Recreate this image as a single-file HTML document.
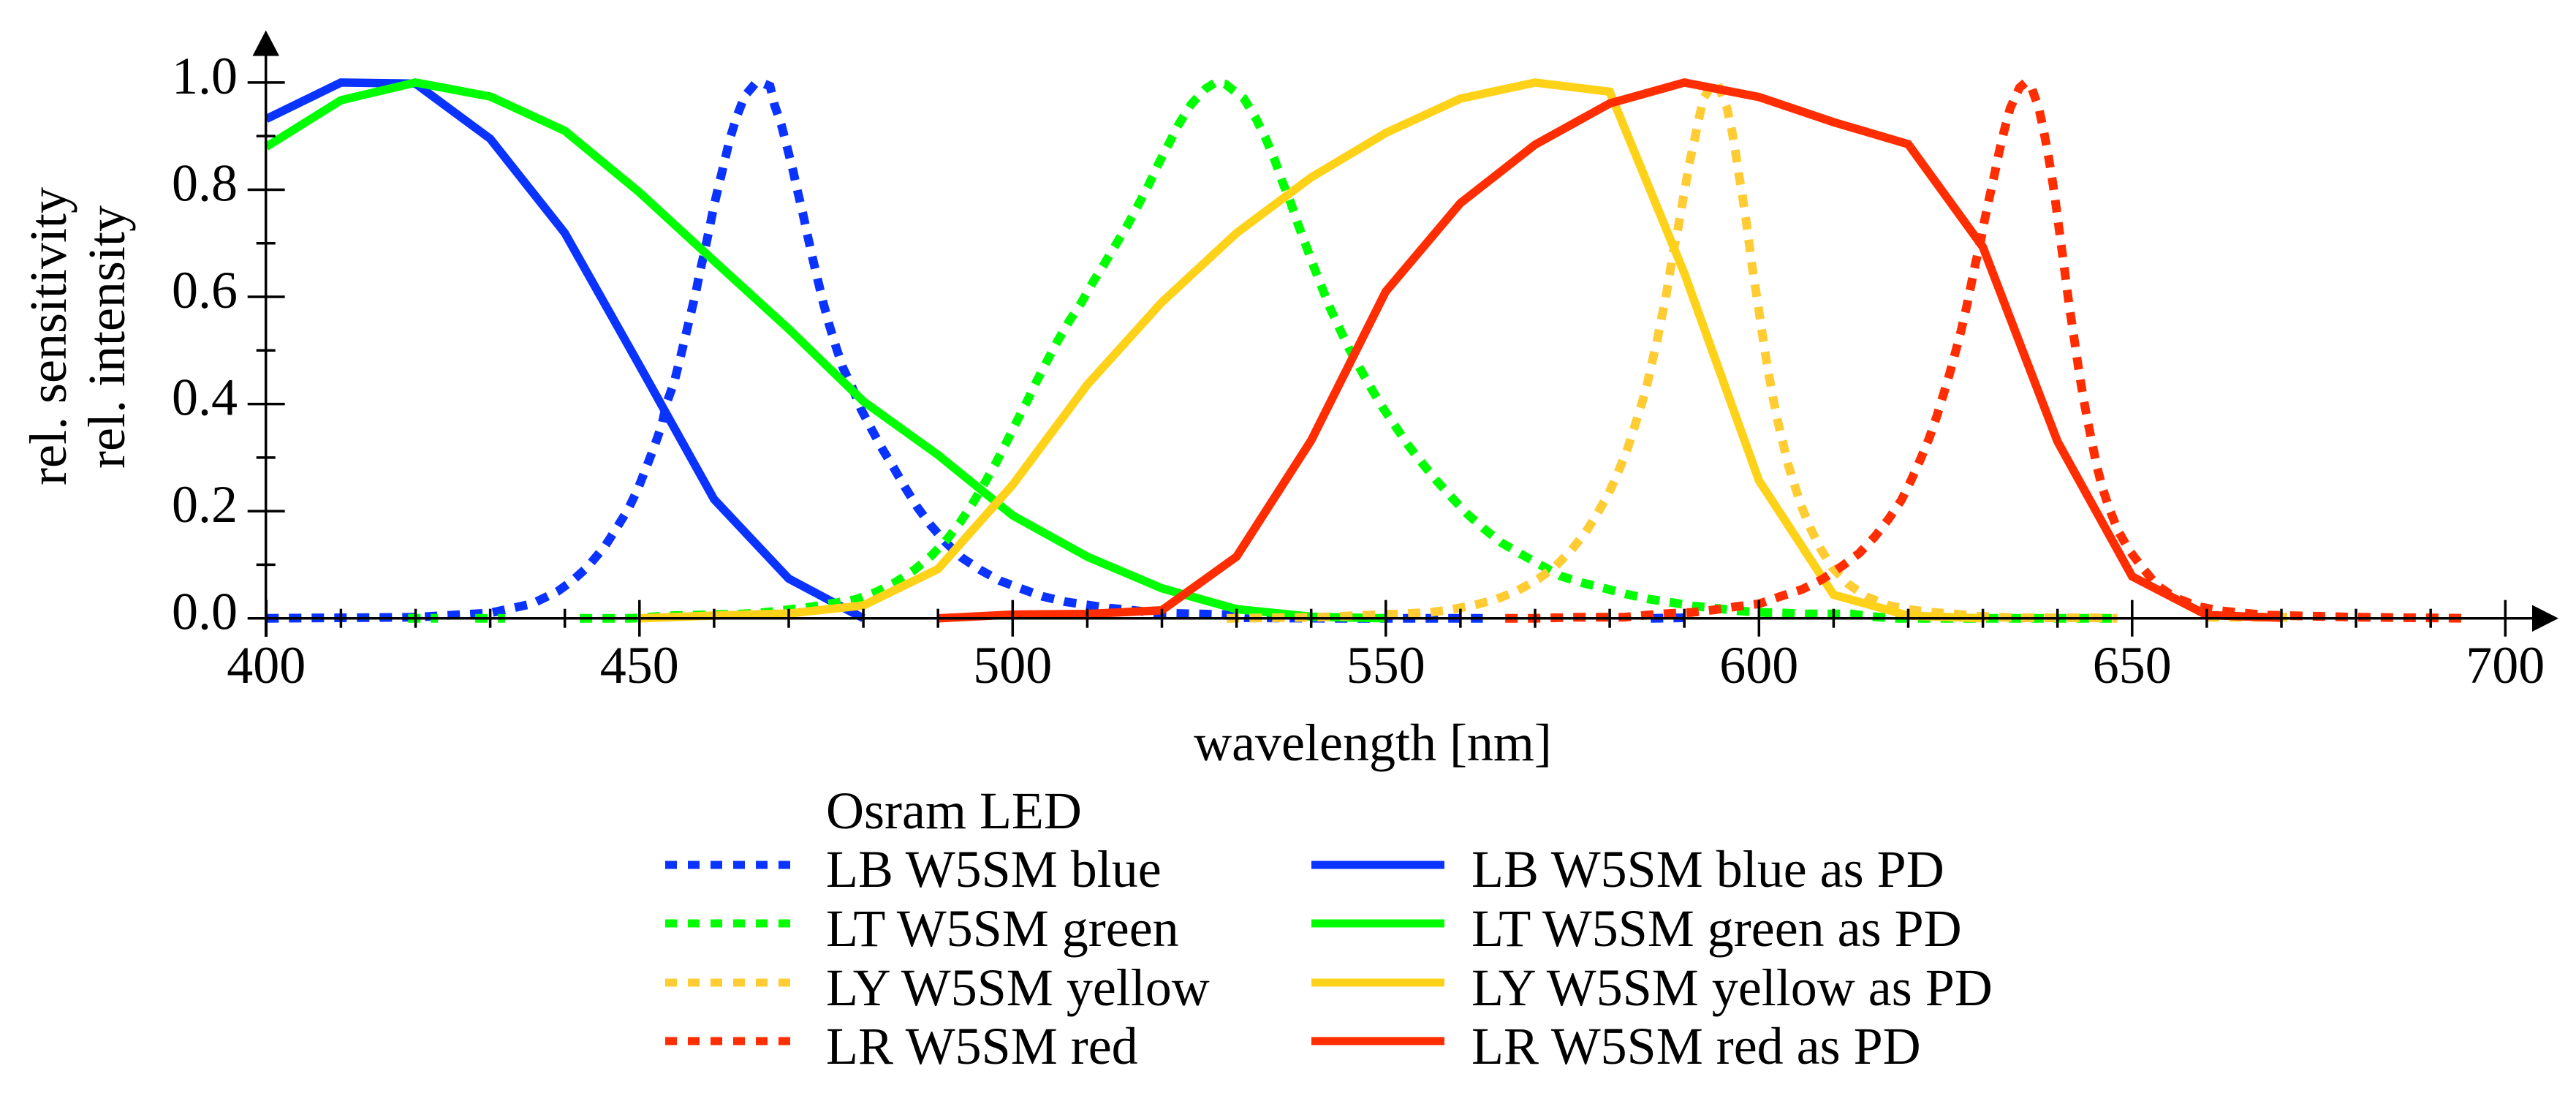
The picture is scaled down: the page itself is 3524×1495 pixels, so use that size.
<!DOCTYPE html>
<html lang="en">
<head>
<meta charset="utf-8">
<title>Osram LED spectra</title>
<style>
html,body{margin:0;padding:0;background:#fff;}
svg{display:block;}
text{font-family:"Liberation Serif",serif;font-size:72px;fill:#000;}
.curve{fill:none;stroke-width:11.5;stroke-linejoin:miter;stroke-linecap:butt;}
.dot{stroke-width:12;stroke-dasharray:17 14;}
.key{stroke-width:11;fill:none;stroke-dasharray:none;}
.key.dots{stroke-dasharray:16 15;}
</style>
</head>
<body>
<svg id="chart" xmlns="http://www.w3.org/2000/svg" width="3524" height="1495" viewBox="0 0 3524 1495">
  <g>
    <path id="ledBlue" class="curve dot" stroke="#0a33ff"/>
    <path id="pdBlue" class="curve" stroke="#0a33ff"/>
    <path id="ledGreen" class="curve dot" stroke="#00ff00"/>
    <path id="pdGreen" class="curve" stroke="#00ff00"/>
    <path id="ledYellow" class="curve dot" stroke="#ffcc33"/>
    <path id="pdYellow" class="curve" stroke="#ffd21a"/>
    <path id="ledRed" class="curve dot" stroke="#ff2d00"/>
    <path id="pdRed" class="curve" stroke="#ff2d00"/>
  </g>
  <g id="axes">
    <line x1="363.7" y1="871" x2="363.7" y2="70" stroke="#000" stroke-width="3.5"/>
    <polygon points="363.7,41.5 345.5,76.5 382,76.5" fill="#000"/>
    <line x1="339" y1="845.7" x2="3470" y2="845.7" stroke="#000" stroke-width="3.5"/>
    <polygon points="3500,845.7 3464,827.5 3464,864" fill="#000"/>
  </g>
  <text x="90" y="460" transform="rotate(-90 90 460)" text-anchor="middle">rel. sensitivity</text>
  <text x="170" y="461" transform="rotate(-90 170 461)" text-anchor="middle">rel. intensity</text>
  <text x="1878" y="1040" text-anchor="middle">wavelength [nm]</text>
  <g>
    <text x="1130" y="1133">Osram LED</text>
    <line class="key dots" x1="910" y1="1183" x2="1082" y2="1183" stroke="#0a33ff"/>
    <text x="1130" y="1213">LB W5SM blue</text>
    <line class="key dots" x1="910" y1="1263" x2="1082" y2="1263" stroke="#00ff00"/>
    <text x="1130" y="1294">LT W5SM green</text>
    <line class="key dots" x1="910" y1="1344" x2="1082" y2="1344" stroke="#ffcc33"/>
    <text x="1130" y="1375">LY W5SM yellow</text>
    <line class="key dots" x1="910" y1="1424" x2="1082" y2="1424" stroke="#ff2d00"/>
    <text x="1130" y="1455">LR W5SM red</text>
    <line class="key" x1="1794" y1="1183" x2="1976" y2="1183" stroke="#0a33ff"/>
    <text x="2013" y="1213">LB W5SM blue as PD</text>
    <line class="key" x1="1794" y1="1263" x2="1976" y2="1263" stroke="#00ff00"/>
    <text x="2013" y="1294">LT W5SM green as PD</text>
    <line class="key" x1="1794" y1="1344" x2="1976" y2="1344" stroke="#ffd21a"/>
    <text x="2013" y="1375">LY W5SM yellow as PD</text>
    <line class="key" x1="1794" y1="1424" x2="1976" y2="1424" stroke="#ff2d00"/>
    <text x="2013" y="1455">LR W5SM red as PD</text>
  </g>
</svg>
<script>
// Tick labels
const xTickLabels = [400, 450, 500, 550, 600, 650, 700];
const xMinorTicks = [410, 420, 430, 440, 460, 470, 480, 490, 510, 520, 530, 540, 560, 570, 580, 590, 610, 620, 630, 640, 660, 670, 680, 690];
const yTickLabels = ["0.0", "0.2", "0.4", "0.6", "0.8", "1.0"];
const yMinorTicks = [0.1, 0.3, 0.5, 0.7, 0.9];

// Photodiode (solid) series
const pdBlueNm = [400, 410, 420, 430, 440, 450, 460, 470, 480];
const pdBlueVal = [0.932, 1.0, 0.998, 0.895, 0.719, 0.472, 0.222, 0.074, 0.0];
const pdGreenNm = [400, 410, 420, 430, 440, 450, 460, 470, 480, 490, 500, 510, 520, 530, 540, 550];
const pdGreenVal = [0.88, 0.967, 1.0, 0.974, 0.91, 0.795, 0.667, 0.54, 0.405, 0.305, 0.192, 0.115, 0.056, 0.017, 0.003, 0.0];
const pdYellowNm = [450, 460, 470, 480, 490, 500, 510, 520, 530, 540, 550, 560, 570, 580, 590, 600, 610, 620, 630];
const pdYellowVal = [0.0, 0.005, 0.009, 0.024, 0.092, 0.249, 0.436, 0.59, 0.719, 0.823, 0.906, 0.97, 1.0, 0.983, 0.644, 0.257, 0.044, 0.005, 0.0];
const pdRedNm = [490, 500, 510, 520, 530, 540, 550, 560, 570, 580, 590, 600, 610, 620, 630, 640, 650, 660, 670];
const pdRedVal = [0.0, 0.007, 0.008, 0.015, 0.115, 0.332, 0.61, 0.775, 0.884, 0.961, 1.0, 0.973, 0.926, 0.885, 0.693, 0.33, 0.078, 0.006, 0.001];

// LED emission (dotted) series; null marks a gap in the trace
const ledBlueNm = [400, 410, 420, 430, 435.6, 439, 441, 443, 445.4, 447, 448.5, 449.8, 450.9, 452, 453, 453.6, 454.65, 455.4, 456.1, 456.8, 457.5, 458.1, 458.8, 459.4, 460, 460.7, 461.4, 462.1, 463, 464.1, 465.5, 466.5, 467.5, 468.1, 469.05, 469.8, 470.55, 471.2, 471.9, 472.55, 473.2, 473.9, 474.6, 475.4, 476.3, 477.25, 478.5, 479.7, 481.1, 482.5, 484.1, 485.6, 487.2, 489, 491, 493.2, 495.7, 498.3, 501.2, 504, 507, 510, 513, 516.1, 519.1, 522.1, 525.1, 528.2, 531.2, 543, 563, null, 585.5, 590];
const ledBlueVal = [0.0, 0.001, 0.002, 0.01, 0.027, 0.05, 0.07, 0.095, 0.135, 0.17, 0.204, 0.242, 0.281, 0.321, 0.361, 0.4, 0.441, 0.482, 0.523, 0.564, 0.605, 0.647, 0.689, 0.73, 0.771, 0.812, 0.853, 0.894, 0.935, 0.975, 0.998, 0.999, 0.993, 0.958, 0.919, 0.878, 0.837, 0.796, 0.755, 0.713, 0.672, 0.631, 0.59, 0.549, 0.508, 0.468, 0.431, 0.39, 0.353, 0.317, 0.28, 0.244, 0.208, 0.174, 0.142, 0.113, 0.09, 0.07, 0.055, 0.041, 0.031, 0.025, 0.019, 0.015, 0.01, 0.009, 0.008, 0.007, 0.001, 0.0, 0.0, null, 0.0, 0.001];
const ledGreenNm = [419, 423, null, 428, 432, null, 442, 448.8, 454.6, 463.7, 466.8, 469.9, 472.9, 475.9, 478.9, 481.7, 484.4, 486.9, 489.2, 491.3, 493.1, 494.8, 496.4, 497.8, 499.2, 500.5, 501.9, 503.2, 504.6, 506, 507.55, 509.2, 510.7, 512.3, 513.85, 515.4, 516.85, 518.2, 519.5, 520.9, 522.3, 523.9, 525.9, 527.2, 528.5, 531, 532.6, 533.9, 535.1, 536.1, 537.2, 538.2, 539.25, 540.3, 541.4, 542.5, 543.8, 545.05, 546.55, 548.05, 549.6, 551.3, 553, 554.85, 556.8, 558.8, 560.9, 563.15, 565.5, 568.1, 570.8, 573.4, 576.4, 579.3, 582.25, 585.2, 588.1, 591.1, 594.15, 597.1, 600.1, 603.2, 606.2, 609.2, 612.3, 615.3, 618.3, 648];
const ledGreenVal = [0.0, 0.0, null, 0.0, 0.0, null, 0.0, 0.0, 0.005, 0.008, 0.011, 0.016, 0.021, 0.028, 0.035, 0.049, 0.068, 0.091, 0.118, 0.149, 0.182, 0.218, 0.256, 0.291, 0.329, 0.366, 0.404, 0.442, 0.48, 0.517, 0.554, 0.589, 0.626, 0.662, 0.698, 0.734, 0.772, 0.808, 0.847, 0.885, 0.923, 0.959, 0.989, 1.0, 0.997, 0.97, 0.933, 0.896, 0.856, 0.816, 0.778, 0.737, 0.698, 0.658, 0.619, 0.58, 0.541, 0.504, 0.466, 0.429, 0.393, 0.358, 0.323, 0.29, 0.257, 0.226, 0.195, 0.167, 0.141, 0.12, 0.099, 0.079, 0.066, 0.056, 0.045, 0.036, 0.03, 0.023, 0.019, 0.014, 0.011, 0.01, 0.008, 0.008, 0.008, 0.003, 0.0, 0.0];
const ledYellowNm = [528.7, 541, 553, 556, 559, 562, 564.9, 567.7, 570.4, 572.8, 574.9, 576.8, 578.4, 579.9, 581.1, 582.25, 583.2, 584.1, 584.95, 585.6, 586.3, 586.9, 587.5, 588, 588.45, 589.1, 589.6, 590.15, 590.65, 591.3, 591.9, 592.6, 593.8, 594.4, 595.7, 596.35, 596.85, 597.3, 597.8, 598.25, 598.65, 599.05, 599.5, 599.95, 600.4, 600.85, 601.35, 601.9, 602.5, 603.2, 603.9, 604.8, 605.75, 606.9, 608.25, 609.8, 611.95, 614.45, 617.35, 620.3, 623.3, 626.3, 629.25, 632.35, 635.3, 638.4, 641.4, 644.4, 648, null, 660, 672];
const ledYellowVal = [0.0, 0.002, 0.009, 0.011, 0.017, 0.025, 0.036, 0.052, 0.073, 0.098, 0.128, 0.161, 0.197, 0.234, 0.272, 0.311, 0.352, 0.392, 0.432, 0.474, 0.515, 0.557, 0.598, 0.64, 0.68, 0.723, 0.764, 0.806, 0.848, 0.889, 0.93, 0.971, 0.998, 1.0, 0.953, 0.912, 0.871, 0.829, 0.787, 0.745, 0.703, 0.66, 0.619, 0.578, 0.535, 0.494, 0.452, 0.41, 0.369, 0.328, 0.287, 0.247, 0.207, 0.168, 0.13, 0.095, 0.064, 0.04, 0.024, 0.016, 0.011, 0.008, 0.004, 0.002, 0.001, 0.001, 0.001, 0.001, 0.0, null, 0.002, 0.002];
const ledRedNm = [566, 569.8, 572.8, 575.9, 578.9, 581.9, 585, 588, 591, 594.1, 597, 600, 602.9, 605.8, 608.5, 611.1, 613.4, 615.5, 617.4, 619.1, 620.4, 621.65, 622.8, 623.8, 624.7, 625.55, 626.35, 627.1, 627.8, 628.4, 629, 629.7, 630.25, 630.9, 631.55, 632.15, 632.85, 633.65, 634.9, 635.7, 636.5, 637.5, 638.15, 638.7, 639.2, 639.65, 640.05, 640.45, 640.85, 641.25, 641.65, 642.1, 642.55, 643, 643.5, 644.05, 644.65, 645.25, 646, 646.95, 648.1, 649.55, 651.4, 653.3, 655.7, 658.85, 661.85, 664.85, 667.85, 680, 695];
const ledRedVal = [0.0, 0.0, 0.001, 0.002, 0.002, 0.002, 0.006, 0.009, 0.011, 0.016, 0.022, 0.027, 0.041, 0.054, 0.073, 0.097, 0.121, 0.152, 0.186, 0.221, 0.258, 0.297, 0.336, 0.376, 0.417, 0.457, 0.498, 0.538, 0.58, 0.621, 0.662, 0.703, 0.745, 0.787, 0.828, 0.869, 0.91, 0.952, 0.99, 1.0, 0.991, 0.952, 0.91, 0.869, 0.828, 0.786, 0.744, 0.701, 0.66, 0.617, 0.576, 0.535, 0.492, 0.45, 0.409, 0.367, 0.326, 0.285, 0.244, 0.204, 0.164, 0.128, 0.094, 0.062, 0.039, 0.022, 0.014, 0.01, 0.006, 0.002, 0.0];

// Axis functions
function xScale(nm) { return 364.3 + (nm - 400) * 10.21; }
function yScale(v) { return 845.7 - v * 732.8; }

const SVGNS = "http://www.w3.org/2000/svg";
const axes = document.getElementById("axes");

function linePath(nms, vals) {
  let d = "";
  let pen = false;
  nms.forEach(function (nm, i) {
    if (nm === null || vals[i] === null) {
      pen = false;
      return;
    }
    d += (pen ? "L" : "M") + xScale(nm).toFixed(1) + " " + yScale(vals[i]).toFixed(1);
    pen = true;
  });
  return d;
}
document.getElementById("ledBlue").setAttribute("d", linePath(ledBlueNm, ledBlueVal));
document.getElementById("ledGreen").setAttribute("d", linePath(ledGreenNm, ledGreenVal));
document.getElementById("ledYellow").setAttribute("d", linePath(ledYellowNm, ledYellowVal));
document.getElementById("ledRed").setAttribute("d", linePath(ledRedNm, ledRedVal));
document.getElementById("pdBlue").setAttribute("d", linePath(pdBlueNm, pdBlueVal));
document.getElementById("pdGreen").setAttribute("d", linePath(pdGreenNm, pdGreenVal));
document.getElementById("pdYellow").setAttribute("d", linePath(pdYellowNm, pdYellowVal));
document.getElementById("pdRed").setAttribute("d", linePath(pdRedNm, pdRedVal));

function makeLine(x1, y1, x2, y2) {
  const el = document.createElementNS(SVGNS, "line");
  el.setAttribute("x1", x1);
  el.setAttribute("y1", y1);
  el.setAttribute("x2", x2);
  el.setAttribute("y2", y2);
  el.setAttribute("stroke", "#000");
  el.setAttribute("stroke-width", "3.5");
  return el;
}
const axisX = 363.7;
const axisY = 845.7;

xTickLabels.forEach(function (nm) {
  const el = makeLine(xScale(nm), axisY - 25, xScale(nm), axisY + 25);
  
  
  axes.appendChild(el);
  const label = document.createElementNS(SVGNS, "text");
  label.setAttribute("x", xScale(nm));
  label.setAttribute("y", 934);
  label.setAttribute("text-anchor", "middle");
  label.textContent = nm;
  
  
  axes.appendChild(label);
});
xMinorTicks.forEach(function (nm) {
  const el = makeLine(xScale(nm), axisY - 13, xScale(nm), axisY + 13);
  
  
  axes.appendChild(el);
});
yTickLabels.forEach(function (txt) {
  const v = parseFloat(txt);
  const el = makeLine(axisX - 25, yScale(v), axisX + 26, yScale(v));
  
  
  axes.appendChild(el);
  const label = document.createElementNS(SVGNS, "text");
  label.setAttribute("x", 325);
  label.setAttribute("y", yScale(v) + 15);
  label.setAttribute("text-anchor", "end");
  label.textContent = txt;
  
  
  axes.appendChild(label);
});
yMinorTicks.forEach(function (v) {
  const el = makeLine(axisX - 13, yScale(v), axisX + 13, yScale(v));
  
  
  axes.appendChild(el);
});
</script>
</body>
</html>
